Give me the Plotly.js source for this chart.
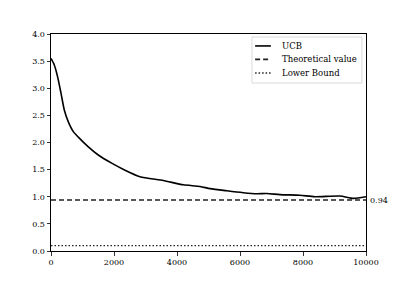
<!DOCTYPE html>
<html><head><meta charset="utf-8">
<script src="https://cdn.plot.ly/plotly-3.0.1.min.js"></script>
<style>html,body{margin:0;padding:0;background:#fff}</style>
</head><body>
<div id="chart" style="width:407px;height:282px"></div>
<script>
const ucbT = [0, 105, 210, 317, 422, 550, 708, 867, 1185, 1500, 1925, 2350, 2825, 3565, 4200, 4730, 5050, 5580, 6105, 6530, 6850, 7270, 7900, 8380, 9175, 9600, 10000];
const ucbV = [3.55, 3.43, 3.21, 2.91, 2.60, 2.38, 2.20, 2.10, 1.92, 1.77, 1.62, 1.49, 1.37, 1.30, 1.22, 1.19, 1.15, 1.11, 1.075, 1.056, 1.06, 1.04, 1.027, 1.0, 1.014, 0.97, 1.0];
const theoT = [0, 10000];
const theoV = [0.94, 0.94];
const lowT = [0, 10000];
const lowV = [0.1, 0.1];
const seriesNames = ['UCB', 'Theoretical value', 'Lower Bound'];
const yTicks = [0, 0.5, 1.0, 1.5, 2.0, 2.5, 3.0, 3.5, 4.0];
const xTicks = [0, 2000, 4000, 6000, 8000, 10000];
const font = "DejaVu Serif";

const styles = [
  {color: '#000', width: 1.6},
  {color: '#222', width: 1.6, dash: '5px,3px'},
  {color: '#222', width: 1.4, dash: '1.5px,2px'}
];
const traces = [
  {x: ucbT, y: ucbV, mode: 'lines', name: seriesNames[0], line: Object.assign({shape: 'spline', smoothing: 0.6}, styles[0])},
  {x: theoT, y: theoV, mode: 'lines', name: seriesNames[1], line: styles[1]},
  {x: lowT, y: lowV, mode: 'lines', name: seriesNames[2], line: styles[2]}
];
const axisCommon = {
  showline: true, linecolor: '#000', linewidth: 1, mirror: true,
  ticks: 'outside', ticklen: 3.5, tickwidth: 0.8, tickcolor: '#000',
  showgrid: false, zeroline: false,
  tickfont: {family: font, size: 8, color: '#000'}
};
// custom legend (compact, matplotlib-like)
const shapes = [{type: 'rect', xref: 'paper', yref: 'paper', x0: 0.638, x1: 0.987, y0: 0.774, y1: 0.986,
  line: {color: '#d0d0d0', width: 0.8}, fillcolor: 'rgba(255,255,255,0.8)', layer: 'above'}];
const annotations = [{xref: 'paper', yref: 'y', x: 1, y: theoV[0], xanchor: 'left', yanchor: 'middle',
  text: String(theoV[0]), showarrow: false, xshift: 2, font: {family: font, size: 8, color: '#000'}}];
const legY = [0.945, 0.883, 0.820];
seriesNames.forEach((n, i) => {
  shapes.push({type: 'line', xref: 'paper', yref: 'paper', x0: 0.648, x1: 0.698, y0: legY[i], y1: legY[i],
    line: styles[i], layer: 'above'});
  annotations.push({xref: 'paper', yref: 'paper', x: 0.728, y: legY[i], xanchor: 'left', yanchor: 'middle',
    text: n, showarrow: false, font: {family: font, size: 8.5, color: '#000'}});
});
const layout = {
  width: 407, height: 282,
  margin: {l: 51, r: 41, t: 34, b: 31},
  paper_bgcolor: '#fff', plot_bgcolor: '#fff',
  showlegend: false,
  xaxis: Object.assign({}, axisCommon, {range: [0, 10000], tickvals: xTicks, tickformat: 'd'}),
  yaxis: Object.assign({}, axisCommon, {range: [0, 4.0], tickvals: yTicks, tickformat: '.1f'}),
  shapes: shapes,
  annotations: annotations
};
Plotly.newPlot('chart', traces, layout, {displayModeBar: false, staticPlot: true});
</script>
</body></html>
